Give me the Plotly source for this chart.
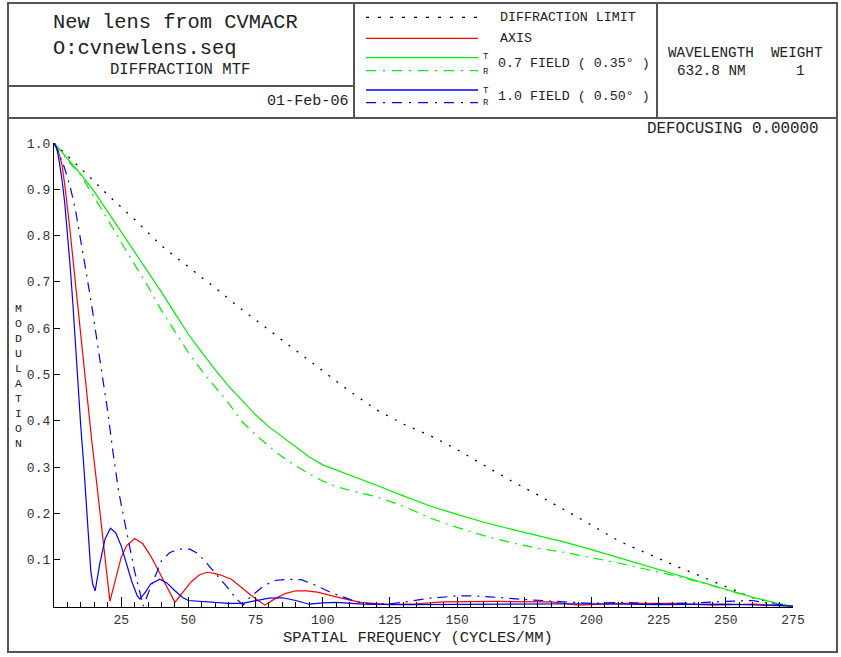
import plotly.graph_objects as go

# ---------------- data ----------------
nu_diff = [0, 5, 10, 15, 20, 25, 30, 40, 50, 60, 70, 80, 90, 100, 110, 120, 130, 140, 150,
           160, 170, 180, 190, 200, 210, 220, 230, 240, 250, 260, 272]
mtf_diff = [1.0, 0.973, 0.945, 0.917, 0.888, 0.862, 0.835, 0.778, 0.733, 0.687, 0.640, 0.596,
            0.550, 0.506, 0.464, 0.424, 0.393, 0.368, 0.338, 0.304, 0.271, 0.240, 0.208,
            0.175, 0.141, 0.115, 0.090, 0.066, 0.042, 0.018, 0.0]

nu_axis = [0, 1, 2, 3, 4, 5, 6, 7, 8, 9, 10, 12, 14, 16, 18, 20, 20.8, 23, 25, 27, 30, 33, 36,
           39, 42, 45, 48, 51, 54, 57, 60, 62, 66, 70, 74, 78.5, 82, 86, 90, 94, 98, 105, 114,
           125, 135, 145, 165, 185, 195, 212, 232, 245, 260, 272, 275]
mtf_axis = [1.0, 0.993, 0.975, 0.952, 0.91, 0.862, 0.81, 0.752, 0.695, 0.638, 0.58, 0.468,
            0.36, 0.26, 0.155, 0.055, 0.01, 0.06, 0.105, 0.13, 0.146, 0.135, 0.108, 0.075,
            0.04, 0.008, 0.03, 0.052, 0.067, 0.073, 0.07, 0.067, 0.058, 0.04, 0.02, 0.002,
            0.015, 0.027, 0.033, 0.033, 0.03, 0.02, 0.008, 0.003, 0.005, 0.009, 0.01, 0.009,
            0.002, 0.006, 0.006, 0.002, 0.004, 0.001, 0.0]

nu_f07 = [0, 5, 10, 15, 20, 25, 30, 35, 40, 45, 50, 55, 60, 65, 70, 75, 80, 85, 90, 95, 100,
          105, 110, 120, 130, 140, 150, 160, 170, 180, 190, 200, 210, 220, 230, 240, 250,
          260, 270, 274]
mtf_f07_t = [1.0, 0.967, 0.933, 0.895, 0.852, 0.808, 0.764, 0.722, 0.678, 0.632, 0.587,
             0.548, 0.51, 0.475, 0.443, 0.413, 0.387, 0.365, 0.343, 0.322, 0.305, 0.294,
             0.284, 0.261, 0.238, 0.216, 0.198, 0.181, 0.166, 0.152, 0.138, 0.122, 0.105,
             0.088, 0.070, 0.053, 0.036, 0.019, 0.005, 0.0]
mtf_f07_r = [1.0, 0.963, 0.930, 0.884, 0.835, 0.785, 0.737, 0.690, 0.638, 0.592, 0.548,
             0.508, 0.472, 0.438, 0.398, 0.370, 0.345, 0.322, 0.303, 0.285, 0.270, 0.258,
             0.250, 0.236, 0.216, 0.190, 0.170, 0.152, 0.137, 0.125, 0.116, 0.105, 0.093,
             0.080, 0.067, 0.052, 0.036, 0.019, 0.005, 0.0]

nu_f10_t = [0, 1, 2, 3, 4, 5, 6, 7, 8, 9, 10, 11, 12, 13, 13.7, 14.5, 15.3, 17, 19, 21, 23,
            25, 27, 29, 31, 32, 34, 36, 39.4, 42, 45, 48, 50, 55, 60, 65, 70, 75, 80, 85, 90,
            95, 100, 105, 115, 130, 150, 175, 200, 225, 250, 275]
mtf_f10_t = [1.0, 0.99, 0.958, 0.92, 0.87, 0.805, 0.735, 0.655, 0.565, 0.46, 0.385, 0.31,
             0.23, 0.13, 0.075, 0.045, 0.033, 0.09, 0.145, 0.168, 0.158, 0.13, 0.09, 0.052,
             0.022, 0.015, 0.03, 0.048, 0.058, 0.05, 0.033, 0.018, 0.012, 0.01, 0.009, 0.006,
             0.006, 0.012, 0.017, 0.018, 0.012, 0.004, 0.007, 0.008, 0.004, 0.003, 0.004,
             0.004, 0.005, 0.003, 0.004, 0.0]

nu_f10_r = [0, 2, 4, 6, 8, 10, 12, 14, 16, 18, 20, 22, 24, 26, 28, 30, 31.5, 33.2, 35.7, 38,
            40, 43, 46.3, 50.6, 53, 55.6, 58, 61.8, 65, 68, 70.4, 72.9, 77.3, 81.6, 87, 92,
            97.8, 102.7, 107.7, 112.6, 118, 125, 132, 140, 150, 156, 162, 168, 172, 178, 184,
            190, 200, 212, 225, 240, 249, 260, 266, 275]
mtf_f10_r = [1.0, 0.975, 0.945, 0.906, 0.855, 0.79, 0.72, 0.65, 0.575, 0.50, 0.42, 0.33,
             0.25, 0.19, 0.13, 0.075, 0.04, 0.0, 0.037, 0.07, 0.098, 0.115, 0.123, 0.123,
             0.115, 0.101, 0.085, 0.060, 0.037, 0.015, 0.002, 0.019, 0.040, 0.055, 0.058,
             0.057, 0.044, 0.030, 0.019, 0.009, 0.004, 0.005, 0.010, 0.017, 0.022, 0.022,
             0.020, 0.017, 0.015, 0.013, 0.011, 0.009, 0.006, 0.008, 0.005, 0.007, 0.010,
             0.012, 0.006, 0.0]

x_ticks = [25, 50, 75, 100, 125, 150, 175, 200, 225, 250, 275]
y_ticks = [0.1, 0.2, 0.3, 0.4, 0.5, 0.6, 0.7, 0.8, 0.9, 1.0]
y_ticktext = ["0.1", "0.2", "0.3", "0.4", "0.5", "0.6", "0.7", "0.8", "0.9", "1.0"]

title_lines = ["New lens from CVMACR", "O:cvnewlens.seq"]
subtitle = "DIFFRACTION MTF"
date_text = "01-Feb-06"
legend_labels = ["DIFFRACTION LIMIT", "AXIS", "0.7 FIELD ( 0.35\u00b0 )", "1.0 FIELD ( 0.50\u00b0 )"]
wave_header = ["WAVELENGTH", "WEIGHT"]
wave_values = ["632.8 NM", "1"]
defocus_text = "DEFOCUSING 0.00000"
x_title = "SPATIAL FREQUENCY (CYCLES/MM)"
y_title = "MODULATION"

# ---------------- layout geometry ----------------
W, H = 841, 657
L, R, T, B = 54, 793, 143, 607   # plot area in pixels


def px(x):
    return (x - L) / (R - L)


def py(y):
    return (B - y) / (B - T)


MONO = "Liberation Mono, Courier New, monospace"
RED, GREEN, BLUE = "#ff0000", "#00f000", "#0000ff"
DOT = "2px,8px"
DASHDOT = "10px,6px,2px,6px"

fig = go.Figure()
fig.add_trace(go.Scatter(x=nu_diff, y=mtf_diff, mode="lines",
                         line=dict(color="#000000", width=1.3, dash=DOT)))
fig.add_trace(go.Scatter(x=nu_axis, y=mtf_axis, mode="lines",
                         line=dict(color=RED, width=1.2)))
fig.add_trace(go.Scatter(x=nu_f07, y=mtf_f07_t, mode="lines",
                         line=dict(color=GREEN, width=1.2)))
fig.add_trace(go.Scatter(x=nu_f07, y=mtf_f07_r, mode="lines",
                         line=dict(color=GREEN, width=1.2, dash=DASHDOT)))
fig.add_trace(go.Scatter(x=nu_f10_t, y=mtf_f10_t, mode="lines",
                         line=dict(color=BLUE, width=1.2)))
fig.add_trace(go.Scatter(x=nu_f10_r, y=mtf_f10_r, mode="lines",
                         line=dict(color=BLUE, width=1.2, dash=DASHDOT)))

BORDER = dict(color="#555555", width=2)
shapes = [
    dict(type="rect", x0=px(8), x1=px(837), y0=py(3), y1=py(652), line=BORDER),
    dict(type="line", x0=px(8), x1=px(837), y0=py(118), y1=py(118), line=BORDER),
    dict(type="line", x0=px(8), x1=px(354), y0=py(86), y1=py(86), line=BORDER),
    dict(type="line", x0=px(354), x1=px(354), y0=py(3), y1=py(118), line=BORDER),
    dict(type="line", x0=px(657), x1=px(657), y0=py(3), y1=py(118), line=BORDER),
]
# legend samples
samples = [(17.3, "#000000", "3px,9px"), (38.3, RED, None), (57.7, GREEN, None),
           (70.7, GREEN, "10px,7px,2px,7px"), (90, BLUE, None), (102.7, BLUE, "10px,7px,2px,7px")]
for yy, col, dash in samples:
    ln = dict(color=col, width=1.3)
    if dash:
        ln["dash"] = dash
    shapes.append(dict(type="line", x0=px(366), x1=px(478), y0=py(yy), y1=py(yy), line=ln))
for s in shapes:
    s["xref"] = "paper"
    s["yref"] = "paper"
    s["layer"] = "above"

annotations = []


def txt(text, x, y, size, xanchor="left", color="#222222"):
    annotations.append(dict(text=text, x=px(x), y=py(y), xref="paper", yref="paper",
                            xanchor=xanchor, yanchor="middle", showarrow=False,
                            font=dict(family=MONO, size=size, color=color)))


txt(title_lines[0], 50.5, 22, 20.4)
txt(title_lines[1], 50.5, 48.5, 20.4)
txt(subtitle, 107.5, 70, 15.6)
txt(date_text, 351, 100.5, 15.1, xanchor="right")
txt(legend_labels[0], 497.5, 17.5, 13.3)
txt(legend_labels[1], 497.5, 38.5, 13.3)
txt(legend_labels[2], 496, 63.5, 13.3)
txt(legend_labels[3], 496, 96.5, 13.3)
for yy, lab in [(57.3, "T"), (71.7, "R"), (90.7, "T"), (103.3, "R")]:
    txt(lab, 486, yy, 9, xanchor="center")
txt(wave_header[0], 665.5, 52.7, 14.3)
txt(wave_header[1], 768.5, 52.7, 14.3)
txt(wave_values[0], 674.5, 71, 14.3)
txt(wave_values[1], 800, 71, 14.3, xanchor="center")
txt(defocus_text, 821, 129, 15.9, xanchor="right")
txt(x_title, 418, 637.5, 15.5, xanchor="center")
# vertical stacked axis title as one multi-line text
txt("<br>".join(y_title), 18.5, 376, 11.5, xanchor="center")

fig.update_layout(
    width=W, height=H,
    margin=dict(l=L, r=W - R, t=T, b=H - B, pad=0),
    paper_bgcolor="white", plot_bgcolor="white",
    showlegend=False,
    shapes=shapes, annotations=annotations,
    xaxis=dict(range=[0, 275], tickmode="array", tickvals=x_ticks,
               ticks="inside", ticklen=10, tickwidth=1, tickcolor="#000",
               showline=True, linecolor="#000", linewidth=1.3,
               showgrid=False, zeroline=False,
               tickfont=dict(family=MONO, size=13, color="#333333"),
               minor=dict(tickmode="linear", tick0=0, dtick=5, ticks="inside", ticklen=5,
                          tickcolor="#000", tickwidth=1, showgrid=False)),
    yaxis=dict(range=[-0.002, 1.0], tickmode="array", tickvals=y_ticks, ticktext=y_ticktext,
               ticks="inside", ticklen=6, tickwidth=1, tickcolor="#000",
               showline=True, linecolor="#000", linewidth=1.3,
               showgrid=False, zeroline=False,
               tickfont=dict(family=MONO, size=13, color="#333333")),
)

fig.write_html("out.html")
